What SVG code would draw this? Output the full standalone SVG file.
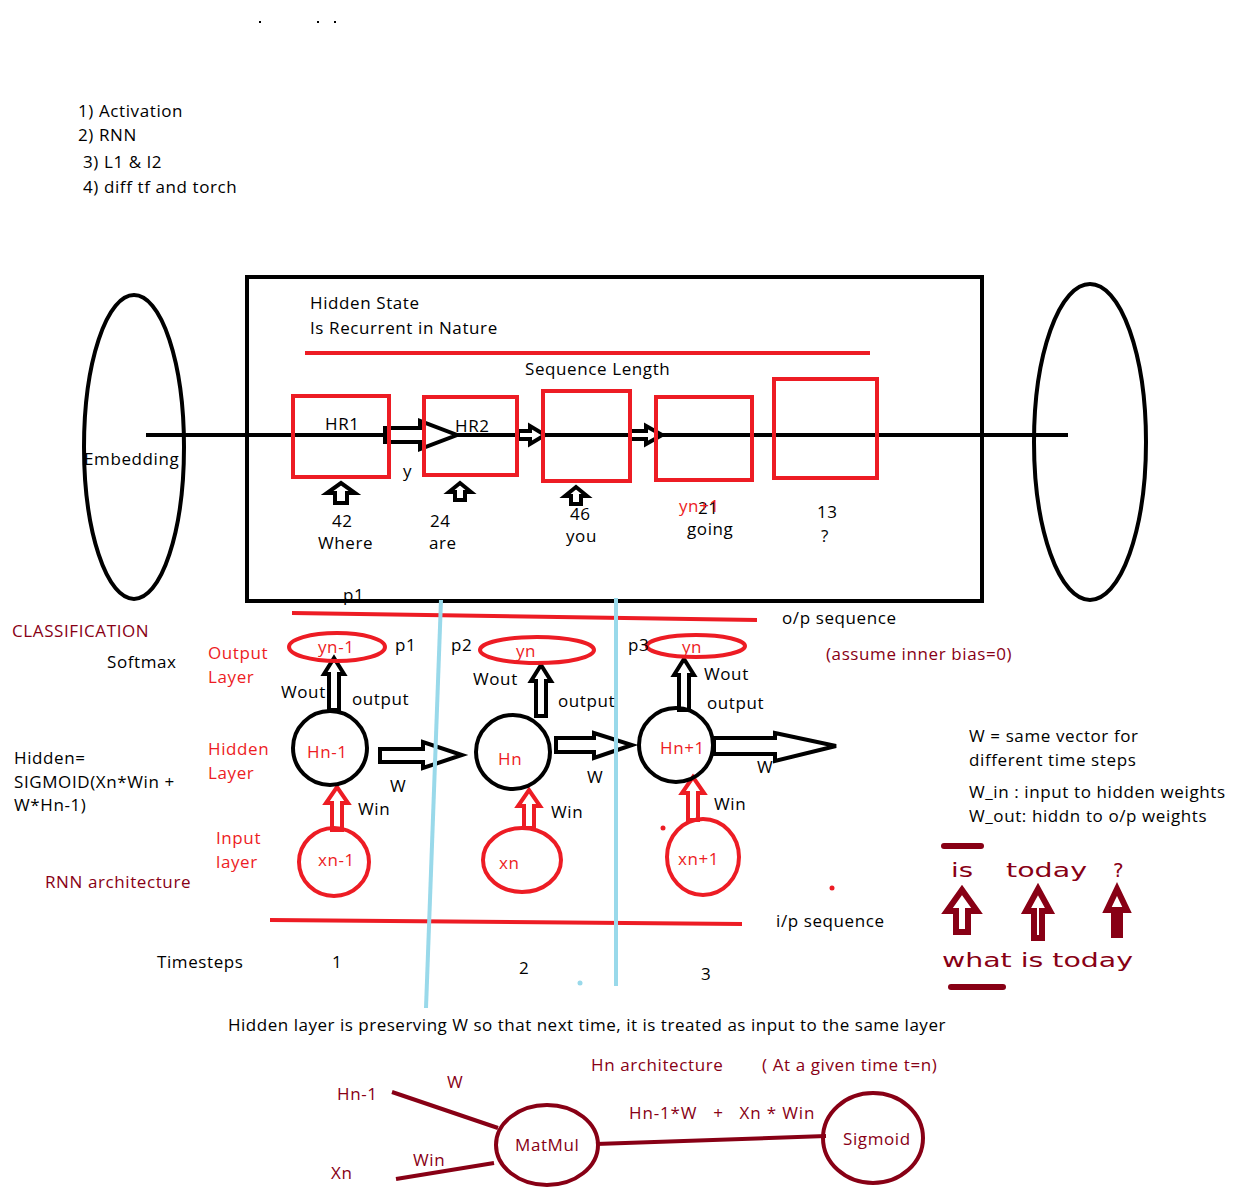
<svg xmlns="http://www.w3.org/2000/svg" width="1258" height="1204" viewBox="0 0 1258 1204">
<style>
text{font-family:"Open Sans","Noto Sans","Liberation Sans",sans-serif;font-size:17px;letter-spacing:0.6px;fill:#000}
.r{fill:#ED1C24}
.d{fill:#880015}
.blk{fill:none;stroke:#000;stroke-width:4}
.red{fill:none;stroke:#ED1C24;stroke-width:4}
.dr{fill:none;stroke:#880015;stroke-width:4}
.ha{fill:#fff;stroke:#000;stroke-width:4;stroke-linejoin:miter}
.hr{fill:#fff;stroke:#ED1C24;stroke-width:4}
.hd{fill:#fff;stroke:#880015;stroke-width:6}
.blue{stroke:#99D9EA;stroke-width:4;fill:none}
.wide{font-family:"DejaVu Sans",Verdana,sans-serif;font-size:20px;letter-spacing:0}
</style>
<rect width="1258" height="1204" fill="#fff"/>
<g id="dots">
<rect x="259" y="21" width="2" height="2" fill="#000"/>
<rect x="317" y="21" width="2" height="2" fill="#000"/>
<rect x="334" y="21" width="2" height="2" fill="#000"/>
<circle cx="663" cy="828" r="2.5" fill="#ED1C24"/>
<circle cx="832" cy="888" r="2.5" fill="#ED1C24"/>
<circle cx="580" cy="983" r="2.5" fill="#99D9EA"/>
</g>
<g id="todo">
<text x="78" y="117">1) Activation</text>
<text x="78" y="141">2) RNN</text>
<text x="83" y="168">3) L1 &amp; l2</text>
<text x="83" y="193">4) diff tf and torch</text>
</g>
<g id="embedding-left">
<ellipse cx="134" cy="447" rx="50" ry="152" class="blk"/>
<text x="84" y="465">Embedding</text>
</g>
<g id="embedding-right">
<ellipse cx="1090" cy="442" rx="56" ry="158" class="blk"/>
</g>
<g id="hidden-box">
<rect x="247" y="277" width="735" height="324" class="blk"/>
<text x="310" y="309">Hidden State</text>
<text x="310" y="334">Is Recurrent in Nature</text>
<line x1="305" y1="353" x2="870" y2="353" class="red"/>
<text x="525" y="375">Sequence Length</text>
</g>
<g id="connectors">
<line x1="146" y1="435" x2="1068" y2="435" stroke="#000" stroke-width="4"/>
<path class="ha" d="M385,428 L420,428 L420,421 L457,435 L420,449 L420,442 L385,442 Z"/>
<path class="ha" stroke-width="5" d="M518,431 L530,431 L530,426 L545,435 L530,444 L530,439 L518,439 Z"/>
<path class="ha" stroke-width="5" d="M630,431 L646,431 L646,426 L662,435 L646,444 L646,439 L630,439 Z"/>
<path class="ha" d="M335,500 L335,493 L327,493 L341,483 L355,493 L347,493 L347,503 L335,503 Z"/>
<path class="ha" d="M455,500 L455,492 L449,492 L460,483 L471,492 L465,492 L465,500 Z"/>
<path class="ha" d="M571,504 L571,496 L565,496 L576,487 L587,496 L581,496 L581,504 Z"/>
<text x="403" y="477">y</text>
<path class="ha" d="M329,710 L329,674 L324,674 L334,658 L344,674 L339,674 L339,710 Z"/>
<path class="ha" d="M536,716 L536,681 L531,681 L541,665 L551,681 L546,681 L546,716 Z"/>
<path class="ha" d="M679,710 L679,675 L674,675 L684,659 L694,675 L689,675 L689,710 Z"/>
<path class="ha" d="M380,749 L423,749 L423,742 L462,755 L423,768 L423,762 L380,762 Z"/>
<path class="ha" d="M556,738 L594,738 L594,733 L632,745 L594,758 L594,752 L556,752 Z"/>
<path class="ha" d="M714,738 L775,738 L775,733 L836,746 L775,761 L775,754 L714,754 Z"/>
<path class="hr" d="M332,830 L332,803 L326,803 L337,787 L348,803 L342,803 L342,830 Z"/>
<path class="hr" d="M524,828 L524,806 L518,806 L529,790 L540,806 L534,806 L534,828 Z"/>
<path class="hr" d="M688,820 L688,793 L682,793 L693,777 L704,793 L698,793 L698,820 Z"/>
<line x1="292" y1="613" x2="757" y2="620" class="red"/>
<line x1="270" y1="920" x2="742" y2="924" class="red"/>
<line x1="441" y1="600" x2="426" y2="1008" class="blue"/>
<line x1="616" y1="598" x2="616" y2="986" class="blue"/>
<line x1="392" y1="1092" x2="498" y2="1128" class="dr" stroke-width="5"/>
<line x1="396" y1="1179" x2="494" y2="1163" class="dr" stroke-width="5"/>
<line x1="596" y1="1144" x2="826" y2="1136" class="dr" stroke-width="5"/>
</g>
<g id="hr1"><rect x="293" y="396" width="96" height="81" class="red"/><text x="325" y="430">HR1</text></g>
<g id="hr2"><rect x="424" y="397" width="93" height="78" class="red"/><text x="455" y="432">HR2</text></g>
<g id="hr3"><rect x="543" y="391" width="87" height="90" class="red"/></g>
<g id="hr4"><rect x="656" y="397" width="96" height="83" class="red"/></g>
<g id="hr5"><rect x="774" y="379" width="103" height="99" class="red"/></g>
<g id="word-labels">
<text x="332" y="527">42</text><text x="318" y="549">Where</text>
<text x="430" y="527">24</text><text x="429" y="549">are</text>
<text x="570" y="520">46</text><text x="566" y="542">you</text>
<text x="698" y="514">21</text><text x="679" y="512" class="r">yn+1</text><text x="687" y="535">going</text>
<text x="817" y="518">13</text><text x="821" y="542">?</text>
<text x="343" y="601">p1</text>
</g>
<g id="left-labels">
<text x="12" y="637" class="d">CLASSIFICATION</text>
<text x="107" y="668">Softmax</text>
<text x="208" y="659" class="r">Output</text><text x="208" y="683" class="r">Layer</text>
<text x="208" y="755" class="r">Hidden</text><text x="208" y="779" class="r">Layer</text>
<text x="216" y="844" class="r">Input</text><text x="216" y="868" class="r">layer</text>
<text x="14" y="764">Hidden=</text>
<text x="14" y="788">SIGMOID(Xn*Win +</text>
<text x="14" y="811">W*Hn-1)</text>
<text x="45" y="888" class="d">RNN architecture</text>
<text x="157" y="968">Timesteps</text>
</g>
<g id="yn-1"><ellipse cx="337" cy="647" rx="48" ry="14" class="red"/><text x="318" y="653" class="r">yn-1</text></g>
<g id="yn"><ellipse cx="537" cy="650" rx="57" ry="13" class="red"/><text x="516" y="657" class="r">yn</text></g>
<g id="yn-3"><ellipse cx="696" cy="646" rx="49" ry="11" class="red"/><text x="682" y="653" class="r">yn</text></g>
<g id="hn-1"><circle cx="330" cy="748" r="37" class="blk"/><text x="307" y="758" class="r">Hn-1</text></g>
<g id="hn"><circle cx="513" cy="752" r="37" class="blk"/><text x="498" y="765" class="r">Hn</text></g>
<g id="hn+1"><circle cx="676" cy="745" r="37" class="blk"/><text x="660" y="754" class="r">Hn+1</text></g>
<g id="xn-1"><ellipse cx="334" cy="862" rx="35" ry="34" class="red"/><text x="318" y="866" class="r">xn-1</text></g>
<g id="xn"><ellipse cx="522" cy="860" rx="39" ry="32" class="red"/><text x="499" y="869" class="r">xn</text></g>
<g id="xn+1"><ellipse cx="703" cy="857" rx="36" ry="38" class="red"/><text x="678" y="865" class="r">xn+1</text></g>
<g id="rnn-labels">
<text x="395" y="651">p1</text><text x="451" y="651">p2</text><text x="628" y="651">p3</text>
<text x="281" y="698">Wout</text><text x="352" y="705">output</text>
<text x="473" y="685">Wout</text><text x="558" y="707">output</text>
<text x="704" y="680">Wout</text><text x="707" y="709">output</text>
<text x="390" y="792">W</text><text x="587" y="783">W</text><text x="757" y="773">W</text>
<text x="358" y="815">Win</text><text x="551" y="818">Win</text><text x="714" y="810">Win</text>
<text x="782" y="624">o/p sequence</text>
<text x="826" y="660" class="d">(assume inner bias=0)</text>
<text x="776" y="927">i/p sequence</text>
<text x="332" y="968">1</text><text x="519" y="974">2</text><text x="701" y="980">3</text>
<text x="228" y="1031" textLength="718">Hidden layer is preserving W so that next time, it is treated as input to the same layer</text>
<text x="969" y="742">W = same vector for</text>
<text x="969" y="766">different time steps</text>
<text x="969" y="798">W_in : input to hidden weights</text>
<text x="969" y="822">W_out: hiddn to o/p weights</text>
</g>
<g id="example">
<line x1="944" y1="846" x2="981" y2="846" stroke="#880015" stroke-width="6" stroke-linecap="round"/>
<line x1="951" y1="987" x2="1003" y2="987" stroke="#880015" stroke-width="6" stroke-linecap="round"/>
<text x="951" y="877" class="d wide" textLength="22" lengthAdjust="spacingAndGlyphs">is</text>
<text x="1006" y="877" class="d wide" textLength="81" lengthAdjust="spacingAndGlyphs">today</text>
<text x="1113" y="877" class="d wide">?</text>
<path class="hd" d="M956,932 L956,911 L947,911 L962,890 L977,911 L968,911 L968,932 Z"/>
<path class="hd" d="M1034,938 L1034,911 L1026,911 L1038,889 L1050,911 L1042,911 L1042,938 Z"/>
<path class="hd" d="M1114,935 L1114,910 L1107,910 L1117,889 L1127,910 L1120,910 L1120,935 Z"/>
<text x="942" y="967" class="d wide" textLength="191" lengthAdjust="spacingAndGlyphs">what is today</text>
</g>
<g id="hn-arch">
<text x="591" y="1071" class="d">Hn architecture</text>
<text x="762" y="1071" class="d">( At a given time t=n)</text>
<text x="337" y="1100" class="d">Hn-1</text>
<text x="447" y="1088" class="d">W</text>
<text x="331" y="1179" class="d">Xn</text>
<text x="413" y="1166" class="d">Win</text>
<text x="629" y="1119" class="d" xml:space="preserve" textLength="186">Hn-1*W   +   Xn * Win</text>
</g>
<g id="matmul"><ellipse cx="547" cy="1145" rx="51" ry="40" class="dr"/><text x="515" y="1151" class="d">MatMul</text></g>
<g id="sigmoid"><ellipse cx="873" cy="1138" rx="50" ry="45" class="dr"/><text x="843" y="1145" class="d">Sigmoid</text></g>
</svg>
